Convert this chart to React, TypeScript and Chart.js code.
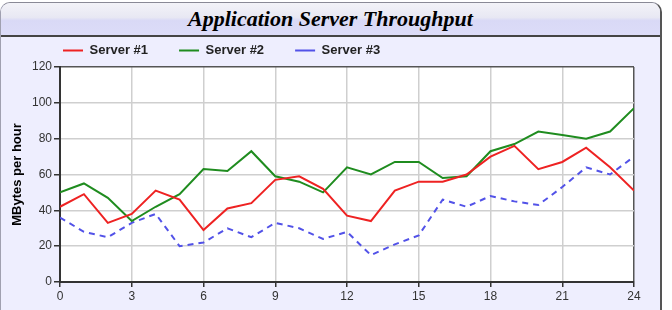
import React, { useEffect, useRef } from "react";
import { Chart, registerables } from "chart.js";

Chart.register(...registerables);

const TITLE = "Application Server Throughput";
const Y_TITLE = "MBytes per hour";
const HOURS = [0, 1, 2, 3, 4, 5, 6, 7, 8, 9, 10, 11, 12, 13, 14, 15, 16, 17, 18, 19, 20, 21, 22, 23, 24];
const SERIES_NAMES = ["Server #1", "Server #2", "Server #3"];
const SERVER1 = [42, 49, 33, 38, 51, 46, 29, 41, 44, 57, 59, 52, 37, 34, 51, 56, 56, 60, 70, 76, 63, 67, 75, 64, 51];
const SERVER2 = [50, 55, 47, 34, 42, 49, 63, 62, 73, 59, 56, 50, 64, 60, 67, 67, 58, 59, 73, 77, 84, 82, 80, 84, 97];
const SERVER3 = [36, 28, 25, 33, 38, 20, 22, 30, 25, 33, 30, 24, 28, 15, 21, 26, 46, 42, 48, 45, 43, 53, 64, 60, 70];
const Y_MIN = 0;
const Y_MAX = 120;
const Y_STEP = 20;
const X_MIN = 0;
const X_MAX = 24;
const X_STEP = 3;

const plotBg = {
  id: "plotBg",
  beforeDraw(chart: any) {
    const { ctx, chartArea } = chart;
    if (!chartArea) return;
    ctx.save();
    ctx.fillStyle = "#ffffff";
    ctx.fillRect(chartArea.left, chartArea.top, chartArea.right - chartArea.left, chartArea.bottom - chartArea.top);
    ctx.restore();
  },
};

export default function App() {
  const ref = useRef<HTMLCanvasElement | null>(null);

  useEffect(() => {
    if (!ref.current) return;
    const toPts = (arr: number[]) => HOURS.map((h, i) => ({ x: h, y: arr[i] }));
    const chart = new Chart(ref.current, {
      type: "line",
      data: {
        datasets: [
          {
            label: SERIES_NAMES[0],
            data: toPts(SERVER1),
            borderColor: "#ee2222",
            backgroundColor: "#ee2222",
            borderWidth: 2,
            pointRadius: 0,
            tension: 0,
          },
          {
            label: SERIES_NAMES[1],
            data: toPts(SERVER2),
            borderColor: "#1f8c1f",
            backgroundColor: "#1f8c1f",
            borderWidth: 2,
            pointRadius: 0,
            tension: 0,
          },
          {
            label: SERIES_NAMES[2],
            data: toPts(SERVER3),
            borderColor: "#5252e8",
            backgroundColor: "#5252e8",
            borderWidth: 2,
            borderDash: [6, 5],
            pointRadius: 0,
            tension: 0,
          },
        ],
      },
      options: {
        responsive: false,
        animation: false,
        devicePixelRatio: 1,
        layout: { padding: { left: 32, right: 38, top: 13, bottom: 0 } },
        plugins: {
          title: { display: false },
          tooltip: { enabled: false },
          legend: {
            display: true,
            position: "top",
            align: "start",
            labels: {
              usePointStyle: true,
              pointStyle: "line",
              pointStyleWidth: 20,
              padding: 31,
              color: "#222",
              font: { family: "Arial, 'Liberation Sans', sans-serif", size: 13, weight: "bold" },
            },
          },
        },
        scales: {
          x: {
            type: "linear",
            min: X_MIN,
            max: X_MAX,
            afterFit: (s: any) => {
              s.height = 28;
            },
            ticks: {
              stepSize: X_STEP,
              padding: 2,
              color: "#333",
              font: { family: "Arial, 'Liberation Sans', sans-serif", size: 12 },
            },
            grid: {
              color: (c: any) => (c.tick && c.tick.value === X_MAX ? "#555" : "#cfcfcf"),
              lineWidth: 1.5,
              tickLength: 5,
              tickColor: "#333",
              tickWidth: 1.5,
            },
            border: { display: true, color: "#333", width: 2 },
          },
          y: {
            type: "linear",
            min: Y_MIN,
            max: Y_MAX,
            afterFit: (s: any) => {
              s.width = 28;
            },
            ticks: {
              stepSize: Y_STEP,
              padding: 2,
              color: "#333",
              font: { family: "Arial, 'Liberation Sans', sans-serif", size: 12 },
            },
            grid: {
              color: (c: any) => (c.tick && c.tick.value === Y_MAX ? "#555" : "#cfcfcf"),
              lineWidth: 1.5,
              tickLength: 6,
              tickColor: "#333",
              tickWidth: 1.5,
            },
            border: { display: true, color: "#333", width: 2 },
            title: {
              display: true,
              text: Y_TITLE,
              color: "#000",
              padding: { top: -22, bottom: 0 },
              font: { family: "Arial, 'Liberation Sans', sans-serif", size: 13, weight: "bold" },
            },
          },
        },
      },
      plugins: [plotBg],
    });
    return () => chart.destroy();
  }, []);

  return (
    <div style={{ position: "absolute", left: 0, top: 0, width: 672, height: 310, overflow: "hidden", background: "#ffffff" }}>
      <div
        style={{
          position: "absolute",
          left: 0,
          top: 2,
          width: 659,
          height: 330,
          background: "#eeeefe",
          borderLeft: "1px solid #a0a0b0",
          borderTop: "1px solid #8a8a96",
          borderRight: "2px solid #555",
          borderTopLeftRadius: 10,
          borderTopRightRadius: 10,
          overflow: "hidden",
        }}
      >
        <div
          style={{
            height: 32,
            borderBottom: "2px solid #444",
            background: "linear-gradient(#f3f3f8 0%, #e8e8f3 45%, #d9d9f6 55%, #dcdcf8 100%)",
            textAlign: "center",
            fontFamily: "'Liberation Serif', 'Times New Roman', serif",
            fontStyle: "italic",
            fontWeight: "bold",
            fontSize: 22,
            lineHeight: "32px",
            color: "#000",
          }}
        >
          {TITLE}
        </div>
      </div>
      <canvas ref={ref} width={672} height={310} style={{ position: "absolute", left: 0, top: 0, width: 672, height: 310 }} />
    </div>
  );
}
